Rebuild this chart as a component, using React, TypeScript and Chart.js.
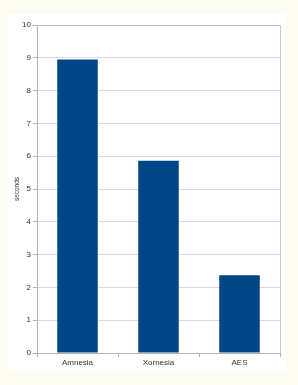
import React, { useEffect, useRef } from "react";
import { Chart, registerables } from "chart.js";

Chart.register(...registerables);

const categories = ["Amnesia", "Xornesia", "AES"];
const seconds = [8.95, 5.86, 2.37];
const yTicks = [0, 1, 2, 3, 4, 5, 6, 7, 8, 9, 10];

const frame = {
  id: "frame",
  beforeDraw(chart: any) {
    const { ctx, width, height } = chart;
    ctx.save();
    ctx.fillStyle = "#ffffff";
    ctx.fillRect(0, 0, width, height);
    ctx.restore();
  },
  afterDraw(chart: any) {
    const { ctx, chartArea } = chart;
    ctx.save();
    ctx.strokeStyle = "#c8c8c8";
    ctx.lineWidth = 1;
    ctx.beginPath();
    const x = Math.round(chartArea.right) + 0.5;
    ctx.moveTo(x, chartArea.top);
    ctx.lineTo(x, chartArea.bottom);
    ctx.stroke();
    ctx.restore();
  },
};

export default function App() {
  const ref = useRef<HTMLCanvasElement>(null);
  useEffect(() => {
    document.body.style.margin = "0";
    document.body.style.background = "#fcfcf0";
    const chart = new Chart(ref.current!, {
      type: "bar",
      data: {
        labels: categories,
        datasets: [
          {
            data: seconds,
            backgroundColor: "#004586",
            borderWidth: 0,
            categoryPercentage: 1,
            barPercentage: 0.5,
          },
        ],
      },
      options: {
        animation: false,
        responsive: false,
        maintainAspectRatio: false,
        layout: { padding: { top: 11, right: 6, left: 0, bottom: 0 } },
        plugins: { legend: { display: false }, tooltip: { enabled: false } },
        scales: {
          x: {
            grid: {
              display: true,
              drawOnChartArea: false,
              drawTicks: true,
              tickLength: 4,
              color: "#b3b3b3",
              offset: true,
            },
            border: { display: true, color: "#b3b3b3" },
            ticks: {
              color: "#333333",
              font: { family: "Liberation Sans", size: 8 },
              padding: 1,
              maxRotation: 0,
            },
            afterFit(scale: any) {
              scale.height = 18;
            },
          },
          y: {
            min: 0,
            max: 10,
            afterBuildTicks(scale: any) {
              scale.ticks = yTicks.map((v) => ({ value: v }));
            },
            grid: {
              color: (c: any) => (c.tick && c.tick.value === 10 ? "#c0c0c0" : "#dadada"),
              tickColor: "#b3b3b3",
              tickLength: 4,
            },
            border: { display: true, color: "#b3b3b3" },
            ticks: {
              color: "#333333",
              font: { family: "Liberation Sans", size: 8 },
              padding: 2,
            },
            title: {
              display: true,
              text: "seconds",
              color: "#333333",
              font: { family: "Liberation Sans", size: 6.5 },
              padding: { top: 5, bottom: 0 },
            },
            afterFit(scale: any) {
              scale.width = 29;
            },
          },
        },
      },
      plugins: [frame],
    });
    return () => chart.destroy();
  }, []);
  return (
    <div style={{ position: "relative", width: 298, height: 385, background: "#fcfcf0" }}>
      <canvas
        ref={ref}
        width={278}
        height={357}
        style={{ position: "absolute", left: 8, top: 14, width: 278, height: 357 }}
      />
    </div>
  );
}
